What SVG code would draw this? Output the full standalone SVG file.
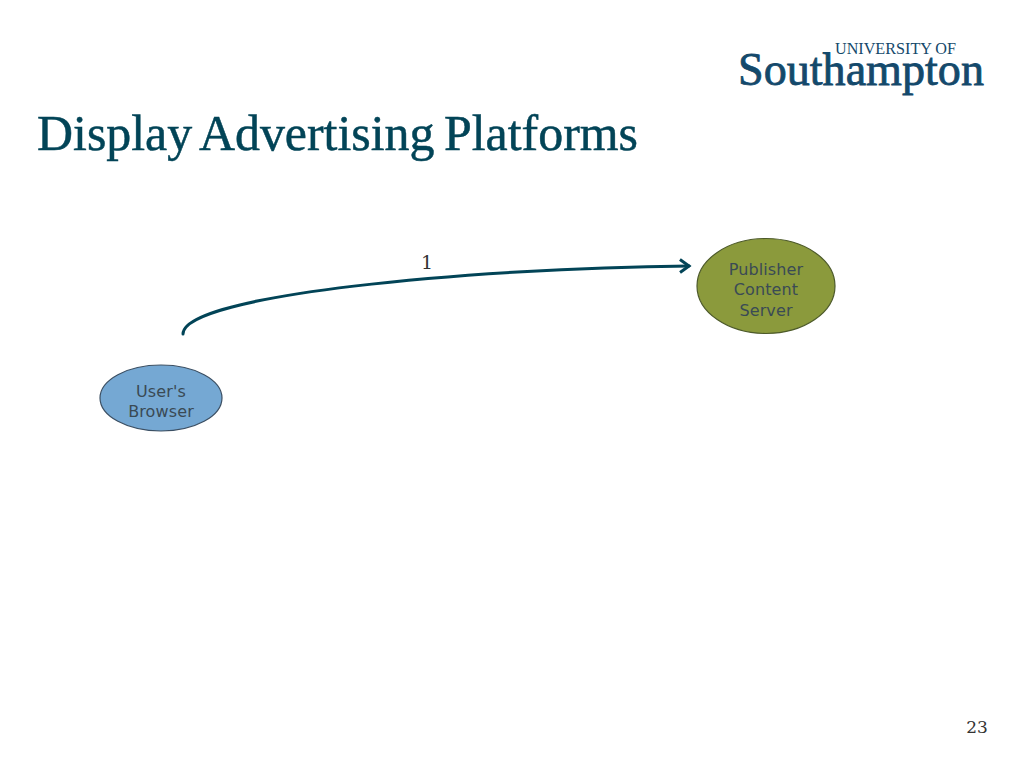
<svg xmlns="http://www.w3.org/2000/svg" width="1024" height="768" viewBox="0 0 1024 768">
<style>
.node{font-family:"DejaVu Sans",sans-serif;font-size:16px;text-anchor:middle;fill:#3a4a55;letter-spacing:.12px}
.serif{font-family:"DejaVu Serif","Liberation Serif",serif}
.logo{font-family:"Liberation Serif",serif;fill:#14496b}
</style>
<defs>
<marker id="arrow" markerUnits="userSpaceOnUse" markerWidth="16" markerHeight="16" refX="13" refY="8" orient="auto"><path d="M4 1.5 L13 8 L4 14.5" fill="none" stroke="#024457" stroke-width="3"/></marker>
</defs>
<rect width="1024" height="768" fill="#ffffff"/>
<text x="37" y="150" font-family="Liberation Serif" font-size="50" word-spacing="-3" fill="#024457" stroke="#024457" stroke-width="0.5" textLength="601" lengthAdjust="spacingAndGlyphs">Display Advertising Platforms</text>
<g id="logo">
<text class="logo" x="835" y="54" font-size="17" textLength="121" lengthAdjust="spacingAndGlyphs">UNIVERSITY OF</text>
<text class="logo" x="738" y="85" font-size="47" textLength="246" lengthAdjust="spacingAndGlyphs" stroke="#14496b" stroke-width="0.8">Southampton</text>
</g>
<g id="connectors">
<path d="M183 334 C183 295 470 268 689 266" fill="none" stroke="#024457" stroke-width="3" stroke-linecap="round" marker-end="url(#arrow)"/>
<text class="serif" x="427" y="269" font-size="19" text-anchor="middle" fill="#333333">1</text>
</g>
<g id="publisher">
<ellipse cx="766" cy="286" rx="69" ry="47.5" fill="#8b9a3c" stroke="#4d5a2a" stroke-width="1.2"/>
<text class="node" x="766" y="275">Publisher</text>
<text class="node" x="766" y="295">Content</text>
<text class="node" x="766" y="316">Server</text>
</g>
<g id="browser">
<ellipse cx="161" cy="398" rx="61" ry="33" fill="#75a8d3" stroke="#3b4f63" stroke-width="1.2"/>
<text class="node" x="161" y="397">User's</text>
<text class="node" x="161" y="417">Browser</text>
</g>
<text class="serif" x="977" y="733" font-size="17" text-anchor="middle" fill="#333333">23</text>
</svg>
